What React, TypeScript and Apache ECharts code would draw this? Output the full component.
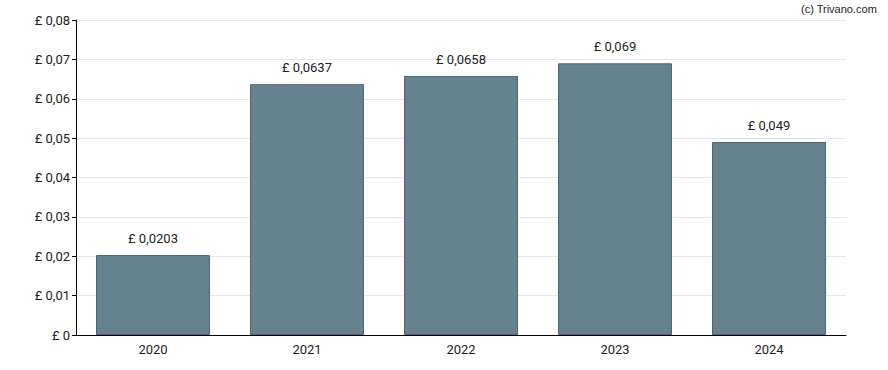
import React, { useEffect, useRef } from "react";
import * as echarts from "echarts";

const categories = ["2020", "2021", "2022", "2023", "2024"];
const values = [0.0203, 0.0637, 0.0658, 0.069, 0.049];
const valueLabels = ["£ 0,0203", "£ 0,0637", "£ 0,0658", "£ 0,069", "£ 0,049"];
const yTicks = [0, 0.01, 0.02, 0.03, 0.04, 0.05, 0.06, 0.07, 0.08];

const fmtY = (v: number) => {
  if (v === 0) return "£ 0";
  return "£ " + v.toFixed(2).replace(".", ",");
};

export default function App() {
  const ref = useRef<HTMLDivElement>(null);
  useEffect(() => {
    if (!ref.current) return;
    const chart = echarts.init(ref.current, null, { renderer: "svg" });
    chart.setOption({
      animation: false,
      textStyle: { fontFamily: "Roboto, Arial, sans-serif" },
      graphic: [
        {
          type: "text",
          right: 11,
          top: 3,
          style: {
            text: "(c) Trivano.com",
            fontSize: 11,
            fill: "#222",
            fontFamily: "Arial, Liberation Sans, sans-serif",
          },
        },
      ],
      grid: { left: 76, right: 42, top: 20, bottom: 35, containLabel: false },
      xAxis: {
        type: "category",
        data: categories,
        axisLine: { lineStyle: { color: "#000", width: 1 } },
        axisTick: { alignWithLabel: true, length: 5, lineStyle: { color: "#000" } },
        axisLabel: { color: "#222", fontSize: 13, margin: 8 },
      },
      yAxis: {
        type: "value",
        min: 0,
        max: yTicks[yTicks.length - 1],
        interval: 0.01,
        axisLine: { show: true, lineStyle: { color: "#000", width: 1 } },
        axisTick: { show: true, length: 4, lineStyle: { color: "#000" } },
        axisLabel: { color: "#222", fontSize: 13, margin: 6, formatter: (v: number) => fmtY(v) },
        splitLine: { lineStyle: { color: "#e6e6e6", width: 1 } },
      },
      series: [
        {
          type: "bar",
          data: values,
          barCategoryGap: "26%",
          itemStyle: { color: "#67828f", borderColor: "#4b6372", borderWidth: 1 },
          label: {
            show: true,
            position: "top",
            distance: 10,
            color: "#222",
            fontSize: 13,
            formatter: (p: any) => valueLabels[p.dataIndex],
          },
        },
      ],
    });
    return () => chart.dispose();
  }, []);
  return (
    <div
      ref={ref}
      style={{ position: "fixed", left: 0, top: 0, width: 888, height: 370, background: "#fff" }}
    />
  );
}
